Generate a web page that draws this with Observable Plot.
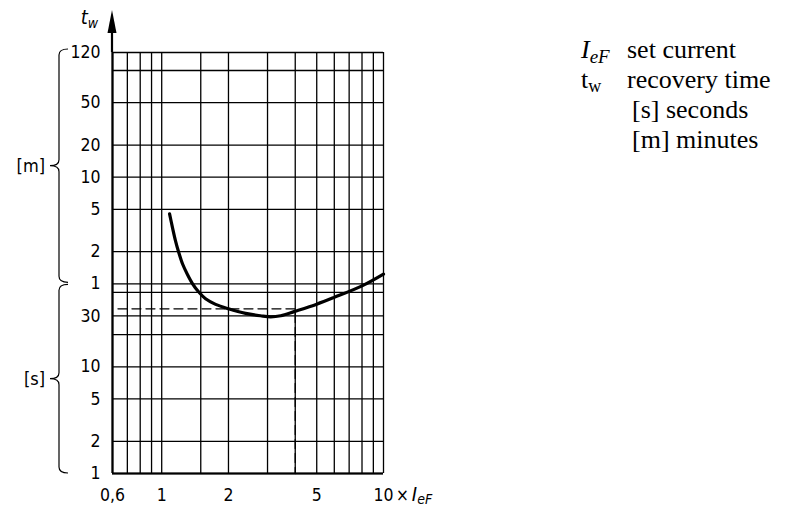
<!DOCTYPE html>
<html><head><meta charset="utf-8">
<script src="https://cdn.jsdelivr.net/npm/d3@7"></script>
<script src="https://cdn.jsdelivr.net/npm/@observablehq/plot@0.6"></script>
<style>
body{margin:0;background:#fff;}
#chart{position:relative;width:788px;height:512px;}
</style></head><body><div id="chart"></div>
<script>
// Recovery time curve: multiple of set current I_eF vs recovery time (seconds)
const curveMultiple = [1.085, 1.119, 1.154, 1.191, 1.242, 1.308, 1.378, 1.466, 1.577, 1.75, 2.0, 2.39, 2.79, 3.1, 3.44, 3.98, 5.0, 6.0, 8.0, 10.0];
const curveSeconds  = [272, 201, 152, 120, 92, 73, 60, 50.5, 43.4, 38.5, 35, 31.7, 30.1, 29.4, 30.1, 33.1, 38.7, 44.8, 57.4, 74];

// Grid lines
const xGrid = [0.6, 0.7, 0.8, 0.9, 1, 1.5, 2, 3, 4, 5, 6, 7, 8, 9, 10];
const yGridSeconds = [1, 2, 5, 10, 20, 30, 50, 60, 120, 300, 600, 1200, 3000, 6000, 7200];

// Tick labels
const xTicks = [0.6, 1, 2, 5, 10];
const xTickLabels = ["0,6", "1", "2", "5", "10"];
const yTicks = [1, 2, 5, 10, 30, 60, 120, 300, 600, 1200, 3000, 7200];
const yTickLabels = ["1", "2", "5", "10", "30", "1", "2", "5", "10", "20", "50", "120"];

// Dashed reading example
const markerMultiple = 4;
const markerSeconds = 35;

// Unit groups on the y axis
const unitLabels = ["[m]", "[s]"];
const unitFrom = [60, 1];
const unitTo = [7200, 60];

const W = 788, H = 512, mL = 112, mR = 405, mT = 52, mB = 39;
const sans = "'DejaVu Sans Condensed','DejaVu Sans',sans-serif";

const curveData = curveMultiple.map((m, i) => ({m, s: curveSeconds[i]}));
const dashData = [[0.635, markerSeconds], [markerMultiple, markerSeconds], [markerMultiple, yGridSeconds[0]]];

const chart = Plot.plot({
  width: W, height: H,
  marginLeft: mL, marginRight: mR, marginTop: mT, marginBottom: mB,
  style: {fontFamily: sans, fontSize: "17px", color: "#000", background: "#fff", overflow: "visible"},
  x: {type: "log", domain: [0.6, 10], label: null, axis: null},
  y: {type: "log", domain: [1, 6000, 7200], range: [H - mB, 70, mT], label: null, axis: null},
  marks: [
    Plot.ruleX(xGrid, {stroke: "#000", strokeWidth: 1.3}),
    Plot.ruleY(yGridSeconds, {stroke: "#000", strokeWidth: 1.3}),
    Plot.ruleX([xGrid[0]], {stroke: "#000", strokeWidth: 2.2}),
    Plot.ruleY([yGridSeconds[0]], {stroke: "#000", strokeWidth: 2.2}),
    Plot.line(dashData, {stroke: "#000", strokeWidth: 1.3, strokeDasharray: "9,5"}),
    Plot.line(curveData, {x: "m", y: "s", curve: "catmull-rom", stroke: "#000", strokeWidth: 3.2}),
    Plot.text(xTicks, {x: d => d, text: (d, i) => xTickLabels[i], frameAnchor: "bottom", lineAnchor: "middle", dy: 22, fontSize: 17.5, fill: "#000"}),
    Plot.text(yTicks, {y: d => d, text: (d, i) => yTickLabels[i], frameAnchor: "left", textAnchor: "end", dx: -12, fontSize: 17.5, fill: "#000"})
  ]
});
document.getElementById("chart").appendChild(chart);

const sx = chart.scale("x"), sy = chart.scale("y");
const svg = d3.select(chart);
const x0 = sx.apply(0.6);
const yTop = sy.apply(7200);

// y axis arrow
svg.append("line").attr("x1", x0).attr("x2", x0).attr("y1", yTop).attr("y2", 26)
  .attr("stroke", "#000").attr("stroke-width", 2.2);
svg.append("path").attr("d", `M${x0},10 L${x0 - 4.5},33 L${x0 + 4.5},33 Z`).attr("fill", "#000");

// t_w label
const tw = svg.append("text").attr("x", x0 - 14).attr("y", 24).attr("text-anchor", "end")
  .attr("font-family", sans).attr("font-style", "italic").attr("font-size", 20);
tw.append("tspan").text("t");
tw.append("tspan").attr("font-size", 14).attr("dy", 4).text("w");

// "× I_eF" after the 10 tick
const xl = svg.append("text").attr("text-anchor", "start").attr("x", sx.apply(10) + 13).attr("y", H - mB + 28)
  .attr("font-family", sans).attr("font-size", 17);
xl.append("tspan").text("×");
xl.append("tspan").attr("dx", 3).attr("font-style", "italic").attr("font-size", 20).text("I");
xl.append("tspan").attr("font-style", "italic").attr("font-size", 14).attr("dy", 3).text("eF");

// braces
function brace(y1, y2, xEnd, xSpine, xTip) {
  const ym = (y1 + y2) / 2, r = 6;
  return `M${xEnd},${y1} Q${xSpine},${y1} ${xSpine},${y1 + r} L${xSpine},${ym - r} Q${xSpine},${ym} ${xTip},${ym} ` +
         `Q${xSpine},${ym} ${xSpine},${ym + r} L${xSpine},${y2 - r} Q${xSpine},${y2} ${xEnd},${y2}`;
}
unitLabels.forEach((lab, i) => {
  const ya = sy.apply(unitTo[i]) - (i === 0 ? 3 : -1), yb = sy.apply(unitFrom[i]) - (i === 0 ? 1 : 0);
  svg.append("path").attr("d", brace(ya, yb, 68, 59, 50)).attr("fill", "none").attr("stroke", "#000").attr("stroke-width", 1.2);
  svg.append("text").attr("x", 45).attr("y", (ya + yb) / 2 + 6).attr("text-anchor", "end")
    .attr("font-family", sans).attr("font-size", 18).text(lab);
});

// Legend (explanations)
const serif = "'Liberation Serif','Times New Roman',serif";
const lg = svg.append("g").attr("font-family", serif).attr("font-size", 26).attr("fill", "#000").attr("text-anchor", "start");
const l1 = lg.append("text").attr("x", 581).attr("y", 58);
l1.append("tspan").attr("font-style", "italic").text("I");
l1.append("tspan").attr("font-style", "italic").attr("font-size", 19).attr("dy", 5).text("eF");
l1.append("tspan").attr("dy", -5).attr("x", 627).text("set current");
const l2 = lg.append("text").attr("x", 581).attr("y", 88);
l2.append("tspan").text("t");
l2.append("tspan").attr("font-size", 18).attr("dy", 4).text("w");
l2.append("tspan").attr("x", 627).attr("dy", -4).text("recovery time");
lg.append("text").attr("x", 632).attr("y", 118).text("[s] seconds");
lg.append("text").attr("x", 632).attr("y", 148).text("[m] minutes");
</script>
</body></html>
